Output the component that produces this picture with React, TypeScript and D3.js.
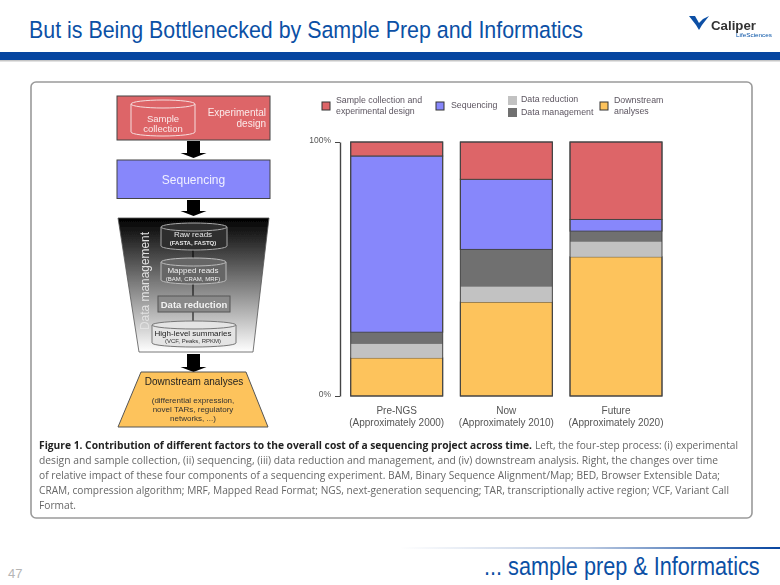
import * as React from "react"
import * as d3 from "d3"

// stacked from the top of each bar, percent of total cost
const periods = ["Pre-NGS", "Now", "Future"]
const periodYears = ["(Approximately 2000)", "(Approximately 2010)", "(Approximately 2020)"]
const segmentKeys = ["downstream", "reduction", "management", "sequencing", "sample"]
const downstream = [15, 37, 54.8]
const reduction = [5.5, 6, 5.9]
const management = [4.6, 14.7, 4.2]
const sequencing = [69.4, 27.6, 4.6]
const sample = [5.5, 14.7, 30.5]
const yTicks = [0, 100]

const segmentColors: Record<string, string> = {
  downstream: "#fdc35b",
  reduction: "#c2c2c2",
  management: "#6f6f6f",
  sequencing: "#8787fb",
  sample: "#dd6568",
}

const captionBold = "Figure 1. Contribution of different factors to the overall cost of a sequencing project across time."
const captionLines = [
  "Left, the four-step process: (i) experimental",
  "design and sample collection, (ii) sequencing, (iii) data reduction and management, and (iv) downstream analysis. Right, the changes over time",
  "of relative impact of these four components of a sequencing experiment. BAM, Binary Sequence Alignment/Map; BED, Browser Extensible Data;",
  "CRAM, compression algorithm; MRF, Mapped Read Format; NGS, next-generation sequencing; TAR, transcriptionally active region; VCF, Variant Call",
  "Format.",
]
const captionY = [449, 464, 479, 494, 509]
const captionEnd = [738, 718, 720, 729, 76]

const sans = "'Liberation Sans', Arial, sans-serif"
const captionFont = "'Open Sans', sans-serif"

function BlockArrow({ x, y0, y1 }: { x: number; y0: number; y1: number }) {
  const path = d3.path()
  path.moveTo(x - 6.5, y0)
  path.lineTo(x + 6.5, y0)
  path.lineTo(x + 6.5, y1 - 5)
  path.lineTo(x + 13, y1 - 5)
  path.lineTo(x, y1)
  path.lineTo(x - 13, y1 - 5)
  path.lineTo(x - 6.5, y1 - 5)
  path.closePath()
  return <path d={path.toString()} fill="#000" />
}

function Cylinder({ x, y, w, h, stroke, fill = "none" }: { x: number; y: number; w: number; h: number; stroke: string; fill?: string }) {
  const ry = 4
  const d = `M${x},${y + ry} A${w / 2},${ry} 0 0 1 ${x + w},${y + ry} L${x + w},${y + h - ry} A${w / 2},${ry} 0 0 1 ${x},${y + h - ry} Z`
  const rim = `M${x},${y + ry} A${w / 2},${ry} 0 0 0 ${x + w},${y + ry}`
  return (
    <g fill={fill} stroke={stroke} strokeWidth={1}>
      <path d={d} />
      <path d={rim} />
    </g>
  )
}

function Flow() {
  return (
    <g fontFamily={sans} textAnchor="middle">
      <rect x={117} y={96} width={153} height={44} fill="#dd6568" stroke="#444" strokeWidth={1} />
      <Cylinder x={131} y={100} w={64} h={36} stroke="#f6dede" />
      <g fill="#fbeaea" fontSize={9.5}>
        <text x={163} y={122}>Sample</text>
        <text x={163} y={132}>collection</text>
      </g>
      <g fill="#fbeaea" fontSize={10} textAnchor="end">
        <text x={266} y={116}>Experimental</text>
        <text x={266} y={127}>design</text>
      </g>
      <BlockArrow x={193.5} y0={141} y1={158} />

      <rect x={117} y={160} width={153} height={38.5} fill="#8787fb" stroke="#444" strokeWidth={1} />
      <text x={193.5} y={184} fill="#f0f0ff" fontSize={12}>Sequencing</text>
      <BlockArrow x={193.5} y0={200} y1={216} />

      <polygon points="118,218 269,218 253,352 139,352" fill="url(#funnelFill)" stroke="#555" strokeWidth={0.8} />
      <line x1={193} x2={193} y1={248} y2={322} stroke="#000" strokeWidth={1} />

      <Cylinder x={161} y={223} w={66} h={27} stroke="#aaa" fill="#2d2d2d" />
      <text x={193} y={237} fill="#e8e8e8" fontSize={8}>Raw reads</text>
      <text x={193} y={245} fill="#e8e8e8" fontSize={6} fontWeight="bold">(FASTA, FASTQ)</text>

      <Cylinder x={161} y={258} w={65} h={26} stroke="#bbb" fill="#666" />
      <text x={193} y={273} fill="#f0f0f0" fontSize={8}>Mapped reads</text>
      <text x={193} y={281} fill="#f0f0f0" fontSize={6}>(BAM, CRAM, MRF)</text>

      <rect x={158} y={296} width={72} height={16} fill="#8a8a8a" stroke="#555" strokeWidth={1} />
      <text x={194} y={308} fill="#f2f2f2" fontSize={9.5} fontWeight="bold">Data reduction</text>

      <Cylinder x={152} y={321} w={84} h={26} stroke="#777" fill="#e4e4e4" />
      <text x={193} y={336} fill="#222" fontSize={8}>High-level summaries</text>
      <text x={193} y={343} fill="#333" fontSize={6}>(VCF, Peaks, RPKM)</text>

      <text transform="translate(149,330) rotate(-90)" textAnchor="start" fill="#e2e2e2" fontSize={12} textLength={98} lengthAdjust="spacingAndGlyphs">Data management</text>

      <BlockArrow x={193.5} y0={354} y1={372} />

      <polygon points="141,372 246,372 268,427 118,427" fill="#fdc35b" stroke="#555" strokeWidth={1} />
      <text x={194} y={385} fill="#222" fontSize={10}>Downstream analyses</text>
      <g fill="#333" fontSize={8}>
        <text x={193} y={403}>(differential expression,</text>
        <text x={193} y={412}>novel TARs, regulatory</text>
        <text x={193} y={421}>networks, ...)</text>
      </g>
    </g>
  )
}

function Legend() {
  const textFill = "#5c5560"
  return (
    <g fontFamily={sans} fontSize={8.8} fill={textFill}>
      <rect x={322} y={102} width={8} height={8} fill={segmentColors.sample} stroke="#333" />
      <text x={336} y={103}>Sample collection and</text>
      <text x={336} y={114}>experimental design</text>
      <rect x={436} y={102} width={8} height={8} fill={segmentColors.sequencing} stroke="#333" />
      <text x={451} y={108}>Sequencing</text>
      <rect x={508} y={96} width={9} height={9} fill={segmentColors.reduction} />
      <rect x={508} y={108} width={9} height={9} fill={segmentColors.management} />
      <text x={521} y={102}>Data reduction</text>
      <text x={521} y={115}>Data management</text>
      <rect x={600} y={102} width={8} height={8} fill={segmentColors.downstream} stroke="#333" />
      <text x={614} y={103}>Downstream</text>
      <text x={614} y={114}>analyses</text>
    </g>
  )
}

function Bars() {
  const axisRef = React.useRef<SVGGElement>(null)

  const x = d3.scaleBand().domain(periods).range([350.7, 662]).paddingInner(0.161)
  const y = d3.scaleLinear().domain([0, 100]).range([396, 142])

  const rows = periods.map((p, i) => ({
    period: p,
    downstream: downstream[i],
    reduction: reduction[i],
    management: management[i],
    sequencing: sequencing[i],
    sample: sample[i],
  }))
  const stacked = d3.stack<any>().keys(segmentKeys)(rows)

  React.useEffect(() => {
    const g = d3.select(axisRef.current)
    g.call(
      d3
        .axisLeft(y)
        .tickValues(yTicks)
        .tickSize(5)
        .tickSizeOuter(0)
        .tickFormat((d) => `${d}%`) as any
    )
    g.select(".domain").attr("stroke", "#444").attr("stroke-width", 1.4)
    g.selectAll(".tick line").attr("stroke", "#444")
    g.selectAll(".tick text")
      .attr("font-family", sans)
      .attr("font-size", 8.5)
      .attr("fill", "#555")
      .attr("x", -9)
      .attr("dy", "0")
  }, [])

  return (
    <g>
      <g ref={axisRef} transform="translate(340,0)" />
      {stacked.map((layer) => (
        <g key={layer.key} fill={segmentColors[layer.key]}>
          {layer.map((d, i) => (
            <rect
              key={periods[i]}
              x={x(periods[i])}
              width={x.bandwidth()}
              y={y(d[1])}
              height={y(d[0]) - y(d[1])}
              stroke={layer.key === "management" || layer.key === "reduction" ? "none" : "#444"}
              strokeWidth={1}
            />
          ))}
        </g>
      ))}
      {periods.map((p) => (
        <rect key={p} x={x(p)} y={y(100)} width={x.bandwidth()} height={y(0) - y(100)} fill="none" stroke="#444" strokeWidth={1} />
      ))}
      {periods.map((p, i) => (
        <g key={p} fontFamily={sans} fontSize={10} fill="#555" textAnchor="middle">
          <text x={(x(p) as number) + x.bandwidth() / 2} y={414}>{p}</text>
          <text x={(x(p) as number) + x.bandwidth() / 2} y={426} textLength={95} lengthAdjust="spacingAndGlyphs">{periodYears[i]}</text>
        </g>
      ))}
    </g>
  )
}

export default function App() {
  React.useEffect(() => {
    document.body.style.margin = "0"
    document.body.style.background = "#fff"
  }, [])

  return (
    <svg width={780} height={585} viewBox="0 0 780 585" style={{ display: "block" }}>
      <defs>
        <linearGradient id="funnelFill" x1="0" x2="0" y1="0" y2="1">
          <stop offset="0" stopColor="#000" />
          <stop offset="1" stopColor="#fff" />
        </linearGradient>
        <linearGradient id="footerLine" x1="0" x2="1" y1="0" y2="0">
          <stop offset="0" stopColor="#fff" />
          <stop offset="0.5" stopColor="#b9c8e0" />
          <stop offset="1" stopColor="#0645a0" />
        </linearGradient>
        <filter id="soft" x="-2%" y="-2%" width="104%" height="104%">
          <feGaussianBlur stdDeviation="0.45" />
        </filter>
      </defs>

      <rect width={780} height={585} fill="#fff" />

      <text x={29} y={38} fontFamily={sans} fontSize={24.5} fill="#0b50a5" textLength={554} lengthAdjust="spacingAndGlyphs">
        But is Being Bottlenecked by Sample Prep and Informatics
      </text>

      {/* logo */}
      <g filter="url(#soft)">
        <path d="M689,16 L695,16 L699,23 L703,19 L709,16 L702,25 L699,30 L696,25 Z" fill="#0b50a5" />
        <text x={711} y={30} fontFamily={sans} fontSize={13} fontWeight="bold" fill="#333" textLength={45} lengthAdjust="spacingAndGlyphs">Caliper</text>
        <text x={736} y={37} fontFamily={sans} fontSize={5} fill="#0b50a5" textLength={36} lengthAdjust="spacingAndGlyphs">LifeSciences</text>
      </g>

      <rect x={0} y={52} width={780} height={8} fill="#0645a0" />
      <rect x={0} y={60} width={780} height={1.5} fill="#c6c6c6" />

      <rect x={31} y={82} width={721} height={436} rx={5} fill="#fff" stroke="#9a9a9a" strokeWidth={1.6} />

      <g filter="url(#soft)">
        <Flow />
        <Legend />
        <Bars />
        <g fontFamily={captionFont} fontSize={10.5} fill="#666">
          <text x={39} y={captionY[0]} fontWeight="bold" fill="#222" textLength={493} lengthAdjust="spacingAndGlyphs">{captionBold}</text>
          {captionLines.map((line, i) =>
            i === 0 ? (
              <text key={i} x={535} y={captionY[i]} textLength={captionEnd[i] - 535} lengthAdjust="spacingAndGlyphs">{line}</text>
            ) : (
              <text key={i} x={39} y={captionY[i]} textLength={captionEnd[i] - 39} lengthAdjust="spacingAndGlyphs">{line}</text>
            )
          )}
        </g>
      </g>

      <rect x={400} y={547} width={380} height={2} fill="url(#footerLine)" />
      <text transform="translate(484,575) scale(0.867,1)" fontFamily={sans} fontSize={25} fill="#0b50a5">
        ... sample prep &amp; Informatics
      </text>
      <text x={8} y={578} fontFamily={sans} fontSize={13} fill="#b5b5b5">47</text>
    </svg>
  )
}
